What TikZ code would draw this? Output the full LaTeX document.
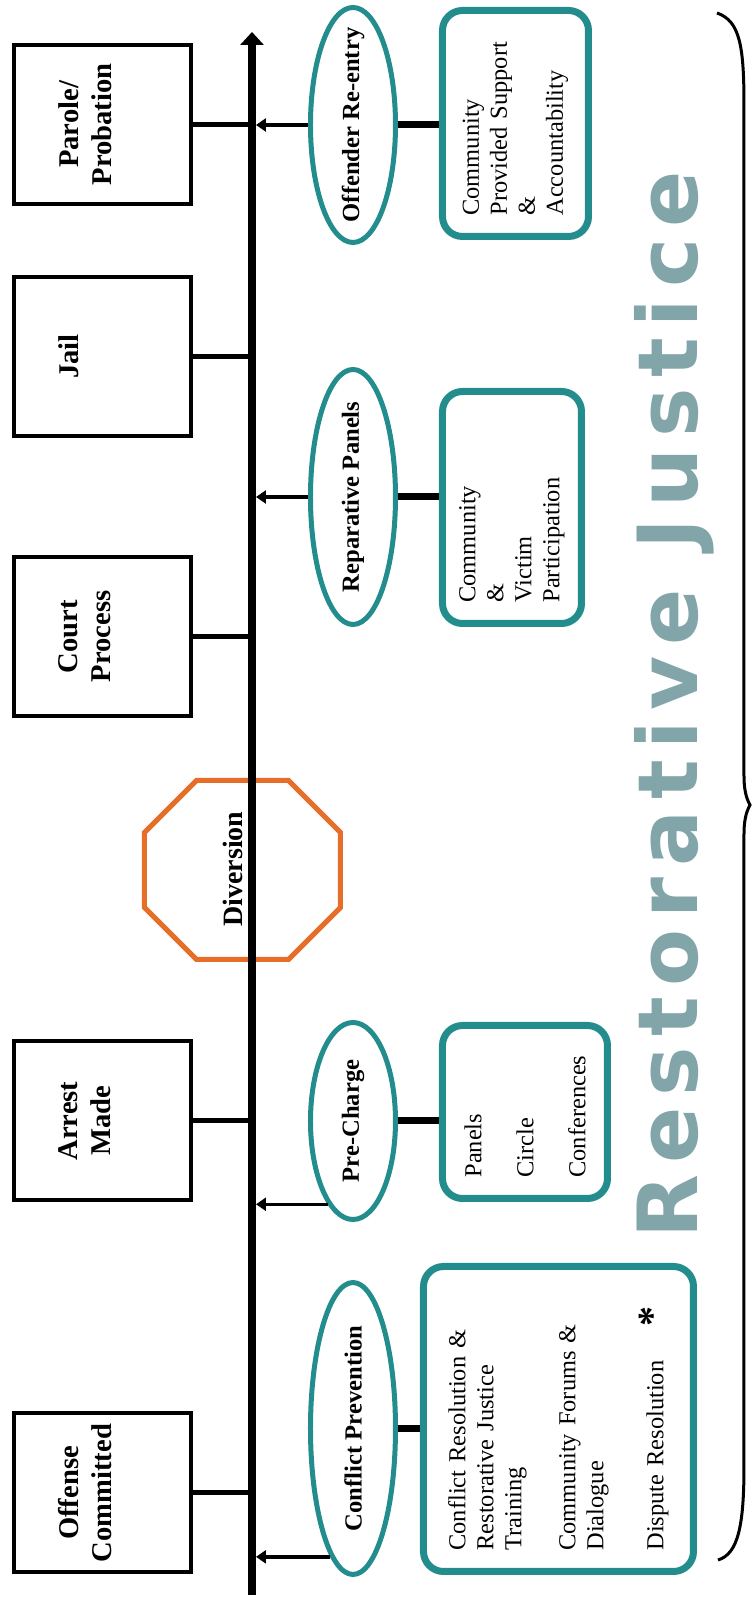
\documentclass[tikz,border=0pt]{standalone}
\usepackage{fontspec}
\setmainfont{Liberation Serif}
\newfontfamily\rjfont[LetterSpace=13]{DejaVu Sans}
\usetikzlibrary{arrows.meta,shapes.geometric,calc}

\definecolor{rjteal}{RGB}{35,140,140}
\definecolor{divorange}{RGB}{230,110,40}
\definecolor{rjshade}{RGB}{130,165,170}

\tikzstyle{stagebox} = [draw, line width=2pt, minimum width=79.5pt, minimum height=88.5pt, inner sep=0pt]
\tikzstyle{stagetext} = [anchor=north, inner sep=0pt, align=center, font=\fontsize{14.3}{16.5}\selectfont\bfseries]
\tikzstyle{phase} = [draw=rjteal, ellipse, line width=2.5pt, minimum height=42.5pt, inner sep=0pt]
\tikzstyle{phasetext} = [inner sep=0pt, font=\fontsize{12.3}{14}\selectfont\bfseries]
\tikzstyle{practice} = [draw=rjteal, line width=3.5pt, rounded corners=10pt, inner xsep=10.5pt, inner ysep=0pt, align=left, font=\fontsize{12.2}{14}\selectfont]
\tikzstyle{stub} = [draw, line width=2.5pt]
\tikzstyle{feed} = [draw, line width=1.75pt, -{Triangle[length=5pt,width=6.5pt]}]
\tikzstyle{link} = [draw, line width=3.5pt]

\begin{document}
\begin{tikzpicture}[x=0.5pt,y=0.5pt,rotate=90,transform shape]
    \useasboundingbox (0,0) rectangle (1606,752);
    \coordinate (tstart) at (11,500);
    \coordinate (tend) at (1574,500);
    \coordinate (tipline) at (0,496);

    % stop sign first, the time line runs over it
    \node[inner sep=0pt, font=\fontsize{14}{16}\selectfont\bfseries] (divText) at (737,519) {Diversion};
    \draw[divorange, line width=2.5pt] (698.5,411.5) -- (773.5,411.5) -- (825.5,463.5) -- (825.5,555.5) -- (773.5,607.5) -- (698.5,607.5) -- (646.5,555.5) -- (646.5,463.5) -- cycle;

    \draw[line width=4pt, -{Triangle[length=6.5pt,width=11.5pt]}] (tstart) -- (tend);

    \node[stagebox] (paroleBox) at (1481.5,649.5) {};
    \node[stagebox] (jailBox) at (1249.5,649.5) {};
    \node[stagebox] (courtBox) at (969.5,649.5) {};
    \node[stagebox] (arrestBox) at (485,649.5) {};
    \node[stagebox] (offenseBox) at (113,649.5) {};

    \node[stagetext] (paroleText) at ($(paroleBox.north)+(0,-46)$) {Parole/\\Probation};
    \node[stagetext] (jailText) at ($(jailBox.north)+(0,-46)$) {Jail};
    \node[stagetext] (courtText) at ($(courtBox.north)+(0,-46)$) {Court\\Process};
    \node[stagetext] (arrestText) at ($(arrestBox.north)+(0,-46)$) {Arrest\\Made};
    \node[stagetext] (offenseText) at ($(offenseBox.north)+(0,-46)$) {Offense\\Committed};

    \draw[stub] (paroleBox.south) -- (paroleBox.south |- tstart);
    \draw[stub] (jailBox.south) -- (jailBox.south |- tstart);
    \draw[stub] (courtBox.south) -- (courtBox.south |- tstart);
    \draw[stub] (arrestBox.south) -- (arrestBox.south |- tstart);
    \draw[stub] (offenseBox.south) -- (offenseBox.south |- tstart);

    \node[phase, minimum width=117.5pt] (reentryOval) at (1481,399) {};
    \node[phase, minimum width=127.5pt] (repairOval) at (1109,399) {};
    \node[phase, minimum width=98.5pt] (chargeOval) at (485,399) {};
    \node[phase, minimum width=146pt] (preventOval) at (177.5,399) {};

    \node[phasetext] (reentryText) at (reentryOval) {Offender Re-entry};
    \node[phasetext] (repairText) at (repairOval) {Reparative Panels};
    \node[phasetext] (chargeText) at (chargeOval) {Pre-Charge};
    \node[phasetext] (preventText) at (preventOval) {Conflict Prevention};

    \draw[feed] (reentryOval.north) -- (reentryOval.north |- tipline);
    \draw[feed] (repairOval.north) -- (repairOval.north |- tipline);
    \draw[feed] (chargeOval.163) -- (chargeOval.163 |- tipline);
    \draw[feed] (preventOval.170) -- (preventOval.170 |- tipline);

    \node[practice, minimum width=113pt, minimum height=73pt, text width=92pt] (supportBox) at (1482.5,236.5) {Community\\Provided Support\\\&\\Accountability};
    \node[practice, minimum width=116pt, minimum height=69.5pt, text width=95pt] (victimBox) at (1098.5,240) {Community\\\&\\Victim\\Participation};
    \node[practice, minimum width=86.5pt, minimum height=82.5pt, text width=65.5pt] (circleBox) at (494,227) {Panels\\[12pt]Circle\\[12pt]Conferences};
    \node[practice, minimum width=152.5pt, minimum height=135pt, text width=131.5pt] (forumBox) at (187,193.5) {Conflict Resolution \&\\Restorative Justice\\Training\\[13pt]Community Forums \&\\Dialogue\\[16pt]Dispute Resolution};
    \node[inner sep=0pt, font=\fontsize{20}{20}\selectfont\bfseries] (star) at (289.5,100) {*};

    \draw[link] (reentryOval.south) -- (reentryOval.south |- supportBox.north);
    \draw[link] (repairOval.south) -- (repairOval.south |- victimBox.north);
    \draw[link] (chargeOval.south) -- (chargeOval.south |- circleBox.north);
    \draw[link] (preventOval.south) -- (preventOval.south |- forumBox.north);

    \node[anchor=base west, inner sep=0pt, text=rjshade, font=\rjfont\fontsize{41.5}{41.5}\selectfont\bfseries] (rjText) at (367,54) {Restorative Justice};

    \draw[line width=1.5pt] (1593,35) .. controls (1585,12) and (1560,8) .. (1500,8) -- (830,8) .. controls (812,8) and (805,4) .. (801,2) .. controls (797,4) and (790,8) .. (772,8) -- (140,8) .. controls (80,8) and (52,14) .. (46,34);
\end{tikzpicture}
\end{document}
